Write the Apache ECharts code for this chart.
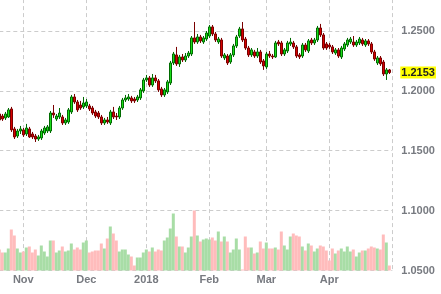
<!DOCTYPE html>
<html>
<head>
<meta charset="utf-8">
<script src="https://cdn.jsdelivr.net/npm/echarts@6/dist/echarts.min.js"></script>
<style>
  html, body { margin: 0; padding: 0; background: #fff; }
  #chart { width: 441px; height: 294px; }
</style>
</head>
<body>
<div id="chart"></div>
<script>
// trading days (the last one, May 1, has no bar: it only carries the month gridline)
var dates = [
  '2017-10-20','2017-10-23','2017-10-24','2017-10-25','2017-10-26','2017-10-27','2017-10-30','2017-10-31',
  '2017-11-01','2017-11-02','2017-11-03','2017-11-06','2017-11-07','2017-11-08','2017-11-09','2017-11-10',
  '2017-11-13','2017-11-14','2017-11-15','2017-11-16','2017-11-17','2017-11-20','2017-11-21','2017-11-22',
  '2017-11-24','2017-11-27','2017-11-28','2017-11-29','2017-11-30',
  '2017-12-01','2017-12-04','2017-12-05','2017-12-06','2017-12-07','2017-12-08','2017-12-11','2017-12-12',
  '2017-12-13','2017-12-14','2017-12-15','2017-12-18','2017-12-19','2017-12-20','2017-12-21','2017-12-22',
  '2017-12-26','2017-12-27','2017-12-28','2017-12-29',
  '2018-01-02','2018-01-03','2018-01-04','2018-01-05','2018-01-08','2018-01-09','2018-01-10','2018-01-11',
  '2018-01-12','2018-01-16','2018-01-17','2018-01-18','2018-01-19','2018-01-22','2018-01-23','2018-01-24',
  '2018-01-25','2018-01-26','2018-01-29','2018-01-30','2018-01-31',
  '2018-02-01','2018-02-02','2018-02-05','2018-02-06','2018-02-07','2018-02-08','2018-02-09','2018-02-12',
  '2018-02-13','2018-02-14','2018-02-15','2018-02-16','2018-02-20','2018-02-21','2018-02-22','2018-02-23',
  '2018-02-26','2018-02-27','2018-02-28',
  '2018-03-01','2018-03-02','2018-03-05','2018-03-06','2018-03-07','2018-03-08','2018-03-09','2018-03-12',
  '2018-03-13','2018-03-14','2018-03-15','2018-03-16','2018-03-19','2018-03-20','2018-03-21','2018-03-22',
  '2018-03-23','2018-03-26','2018-03-27','2018-03-28','2018-03-29',
  '2018-04-02','2018-04-03','2018-04-04','2018-04-05','2018-04-06','2018-04-09','2018-04-10','2018-04-11',
  '2018-04-12','2018-04-13','2018-04-16','2018-04-17','2018-04-18','2018-04-19','2018-04-20','2018-04-23',
  '2018-04-24','2018-04-25','2018-04-26','2018-04-27','2018-04-30',
  '2018-05-01'
];

var opens = [
  1.1807,1.1790,1.1774,1.1782,1.1849,1.1682,1.1623,1.1665,1.1674,1.1640,
  1.1682,1.1640,1.1623,1.1598,1.1607,1.1648,1.1665,1.1665,1.1815,1.1765,
  1.1782,1.1782,1.1732,1.1740,1.1824,1.1949,1.1907,1.1882,1.1866,1.1874,
  1.1874,1.1857,1.1824,1.1815,1.1782,1.1732,1.1757,1.1732,1.1824,1.1790,
  1.1782,1.1857,1.1924,1.1932,1.1941,1.1932,1.1924,1.1941,1.1999,1.2091,
  1.2108,1.2049,1.2108,1.2083,1.2016,1.1966,1.1991,1.2066,1.2233,1.2300,
  1.2225,1.2283,1.2258,1.2291,1.2308,1.2442,1.2408,1.2450,1.2408,1.2433,
  1.2458,1.2534,1.2475,1.2408,1.2425,1.2275,1.2291,1.2241,1.2300,1.2375,
  1.2458,1.2517,1.2433,1.2358,1.2300,1.2325,1.2291,1.2325,1.2250,1.2200,
  1.2308,1.2291,1.2283,1.2408,1.2400,1.2308,1.2333,1.2392,1.2400,1.2367,
  1.2300,1.2291,1.2383,1.2333,1.2425,1.2400,1.2425,1.2525,1.2467,1.2392,
  1.2383,1.2367,1.2316,1.2342,1.2283,1.2350,1.2383,1.2408,1.2408,1.2383,
  1.2400,1.2425,1.2383,1.2417,1.2392,1.2325,1.2233,1.2275,1.2241,1.2141,
  1.2175
];
var closes = [
  1.1757,1.1765,1.1807,1.1841,1.1674,1.1615,1.1665,1.1682,1.1632,1.1690,
  1.1615,1.1615,1.1598,1.1615,1.1665,1.1690,1.1699,1.1815,1.1799,1.1790,
  1.1815,1.1732,1.1757,1.1841,1.1949,1.1907,1.1841,1.1857,1.1899,1.1907,
  1.1849,1.1815,1.1790,1.1782,1.1732,1.1757,1.1740,1.1824,1.1782,1.1782,
  1.1857,1.1924,1.1941,1.1949,1.1916,1.1916,1.1949,1.2008,1.2091,1.2108,
  1.2049,1.2108,1.2083,1.2008,1.1966,1.2008,1.2075,1.2233,1.2308,1.2225,
  1.2283,1.2258,1.2291,1.2316,1.2442,1.2408,1.2450,1.2417,1.2442,1.2483,
  1.2534,1.2475,1.2425,1.2433,1.2291,1.2300,1.2233,1.2300,1.2375,1.2450,
  1.2517,1.2425,1.2358,1.2300,1.2342,1.2291,1.2325,1.2241,1.2208,1.2308,
  1.2291,1.2283,1.2400,1.2392,1.2308,1.2342,1.2400,1.2408,1.2367,1.2291,
  1.2283,1.2383,1.2342,1.2417,1.2400,1.2425,1.2525,1.2467,1.2358,1.2358,
  1.2367,1.2325,1.2342,1.2291,1.2358,1.2392,1.2425,1.2433,1.2383,1.2408,
  1.2433,1.2392,1.2417,1.2392,1.2325,1.2266,1.2275,1.2225,1.2141,1.2175,
  1.2153
];
var highs = [
  1.1882,1.1807,1.1824,1.1857,1.1866,1.1699,1.1682,1.1707,1.1690,1.1724,
  1.1699,1.1657,1.1640,1.1632,1.1682,1.1707,1.1715,1.1832,1.1882,1.1807,
  1.1857,1.1799,1.1774,1.1857,1.1966,1.1974,1.1924,1.1916,1.1949,1.1932,
  1.1891,1.1874,1.1841,1.1832,1.1799,1.1774,1.1782,1.1841,1.1866,1.1815,
  1.1874,1.1941,1.1966,1.1974,1.1958,1.1949,1.1966,1.2024,1.2108,1.2133,
  1.2124,1.2141,1.2133,1.2099,1.2033,1.2024,1.2091,1.2250,1.2325,1.2367,
  1.2300,1.2308,1.2316,1.2333,1.2458,1.2575,1.2475,1.2467,1.2458,1.2500,
  1.2550,1.2550,1.2492,1.2450,1.2442,1.2316,1.2308,1.2316,1.2392,1.2467,
  1.2534,1.2575,1.2450,1.2375,1.2358,1.2342,1.2358,1.2342,1.2266,1.2325,
  1.2333,1.2308,1.2417,1.2425,1.2417,1.2358,1.2417,1.2442,1.2417,1.2383,
  1.2316,1.2400,1.2400,1.2433,1.2442,1.2442,1.2542,1.2559,1.2483,1.2408,
  1.2400,1.2383,1.2358,1.2358,1.2375,1.2408,1.2442,1.2450,1.2458,1.2425,
  1.2450,1.2442,1.2433,1.2433,1.2408,1.2342,1.2291,1.2291,1.2258,1.2191,
  1.2183
];
var lows = [
  1.1740,1.1749,1.1757,1.1774,1.1657,1.1598,1.1607,1.1640,1.1615,1.1623,
  1.1607,1.1598,1.1573,1.1582,1.1590,1.1632,1.1648,1.1648,1.1774,1.1749,
  1.1765,1.1715,1.1715,1.1724,1.1807,1.1891,1.1824,1.1841,1.1849,1.1857,
  1.1832,1.1799,1.1774,1.1765,1.1715,1.1715,1.1724,1.1715,1.1765,1.1757,
  1.1765,1.1841,1.1907,1.1916,1.1899,1.1899,1.1907,1.1924,1.1983,1.2075,
  1.2033,1.2033,1.2066,1.1991,1.1949,1.1949,1.1974,1.2049,1.2216,1.2208,
  1.2200,1.2241,1.2241,1.2275,1.2291,1.2392,1.2392,1.2400,1.2392,1.2417,
  1.2442,1.2458,1.2408,1.2392,1.2275,1.2258,1.2216,1.2225,1.2283,1.2358,
  1.2442,1.2408,1.2342,1.2283,1.2283,1.2275,1.2275,1.2225,1.2175,1.2183,
  1.2275,1.2266,1.2275,1.2375,1.2291,1.2291,1.2316,1.2375,1.2350,1.2275,
  1.2266,1.2275,1.2325,1.2316,1.2383,1.2383,1.2408,1.2450,1.2342,1.2342,
  1.2350,1.2308,1.2300,1.2275,1.2266,1.2333,1.2367,1.2392,1.2367,1.2367,
  1.2383,1.2375,1.2367,1.2375,1.2308,1.2250,1.2216,1.2208,1.2124,1.2091,
  1.2141
];
// volume, thousands
var volumes = [
  21,18,18,22,41,35,22,18,19,23, 24,18,21,15,25,19,14,30,30,18,
  20,24,19,20,27,21,23,21,28,30, 18,19,20,20,27,22,32,44,37,30,
  19,21,21,16,14,5,13,13,18,21,  19,23,19,21,20,30,33,42,57,34,
  24,24,18,23,34,60,35,29,31,32, 31,33,30,39,29,34,29,18,21,32,
  21,1,34,23,23,17,18,29,22,28,  22,22,23,21,39,25,21,34,37,35,
  34,24,20,27,25,19,22,25,24,20, 10,22,17,20,22,19,24,19,21,14,
  18,20,20,22,24,23,22,21,36,28, 5
];
var priceTicks = { min: 1.05, max: 1.30, step: 0.05 };
var monthNames = ['Jan','Feb','Mar','Apr','May','Jun','Jul','Aug','Sep','Oct','Nov','Dec'];

var upColor = '#19dd19', upBorder = '#006b00';
var downColor = '#d60000', downBorder = '#7a0000';
var volUp = '#a8dda6', volDown = '#ffbcbc';
var gridColor = '#cccccc';
var textColor = '#777a80';

function isMonthStart(i) {
  if (i == 0) return false;
  return dates[i].slice(5, 7) != dates[i - 1].slice(5, 7);
}

var ohlc = [];
for (var i = 0; i < closes.length; i++) {
  ohlc.push([opens[i], closes[i], lows[i], highs[i]]);
}
var lastClose = closes[closes.length - 1];

var chart = echarts.init(document.getElementById('chart'), null, { renderer: 'canvas' });

// price grid runs above the picture so that 1.25 lands where it does in the original
var gridPos = { left: -0.7, right: 48.7 };

var option = {
  animation: false,
  grid: [
    { left: gridPos.left, right: gridPos.right, top: -28.9, bottom: 23.5, outerBoundsMode: 'none', containLabel: false },
    { left: gridPos.left, right: gridPos.right, top: 0, bottom: 23.5, outerBoundsMode: 'none', containLabel: false }
  ],
  xAxis: [
    {
      type: 'category',
      gridIndex: 0,
      data: dates,
      boundaryGap: false,
      axisLine: { show: false },
      axisTick: { show: false },
      axisLabel: {
        interval: function (idx) { return isMonthStart(idx) && idx < dates.length - 1; },
        formatter: function (val) {
          var m = parseInt(val.slice(5, 7), 10);
          return m == 1 ? val.slice(0, 4) : monthNames[m - 1];
        },
        color: textColor,
        fontFamily: 'Liberation Sans',
        fontSize: 11,
        fontWeight: 'bold',
        margin: 4
      },
      splitLine: {
        show: true,
        interval: function (idx) { return isMonthStart(idx); },
        lineStyle: { color: gridColor, type: [4, 3], width: 1 }
      }
    },
    {
      type: 'category',
      gridIndex: 1,
      data: dates,
      boundaryGap: false,
      show: false
    }
  ],
  yAxis: [
    {
      type: 'value',
      gridIndex: 0,
      position: 'right',
      min: priceTicks.min,
      max: priceTicks.max,
      interval: priceTicks.step,
      axisLine: { show: false },
      axisTick: { show: false },
      axisLabel: {
        formatter: function (v) { return v.toFixed(4); },
        color: textColor,
        fontFamily: 'Liberation Sans',
        fontSize: 11,
        fontWeight: 'bold',
        margin: 9
      },
      splitLine: { lineStyle: { color: gridColor, type: [4, 3], width: 1 } }
    },
    {
      type: 'value',
      gridIndex: 1,
      min: 0,
      max: 270.5,
      show: false,
      splitLine: { show: false }
    }
  ],
  series: [
    {
      type: 'bar',
      xAxisIndex: 1,
      yAxisIndex: 1,
      data: volumes,
      barWidth: '100%',
      barCategoryGap: '0%',
      clip: false,
      z: 1,
      itemStyle: {
        color: function (p) {
          return closes[p.dataIndex] >= opens[p.dataIndex] ? volUp : volDown;
        }
      }
    },
    {
      type: 'candlestick',
      xAxisIndex: 0,
      yAxisIndex: 0,
      data: ohlc,
      barWidth: 3,
      clip: false,
      z: 3,
      itemStyle: {
        color: upColor,
        color0: downColor,
        borderColor: upBorder,
        borderColor0: downBorder,
        borderWidth: 1
      },
      markLine: {
        silent: true,
        symbol: 'none',
        precision: 4,
        lineStyle: { color: 'rgba(0,0,0,0)', width: 0 },
        data: [{ yAxis: lastClose }],
        label: {
          show: true,
          position: 'end',
          distance: 8,
          formatter: function (p) { return Number(p.value).toFixed(4); },
          backgroundColor: '#ffff00',
          color: '#222222',
          fontFamily: 'Liberation Sans',
          fontSize: 11,
          fontWeight: 'bold',
          padding: [1, 1, 0, 1]
        }
      }
    }
  ]
};

chart.setOption(option);
</script>
</body>
</html>
